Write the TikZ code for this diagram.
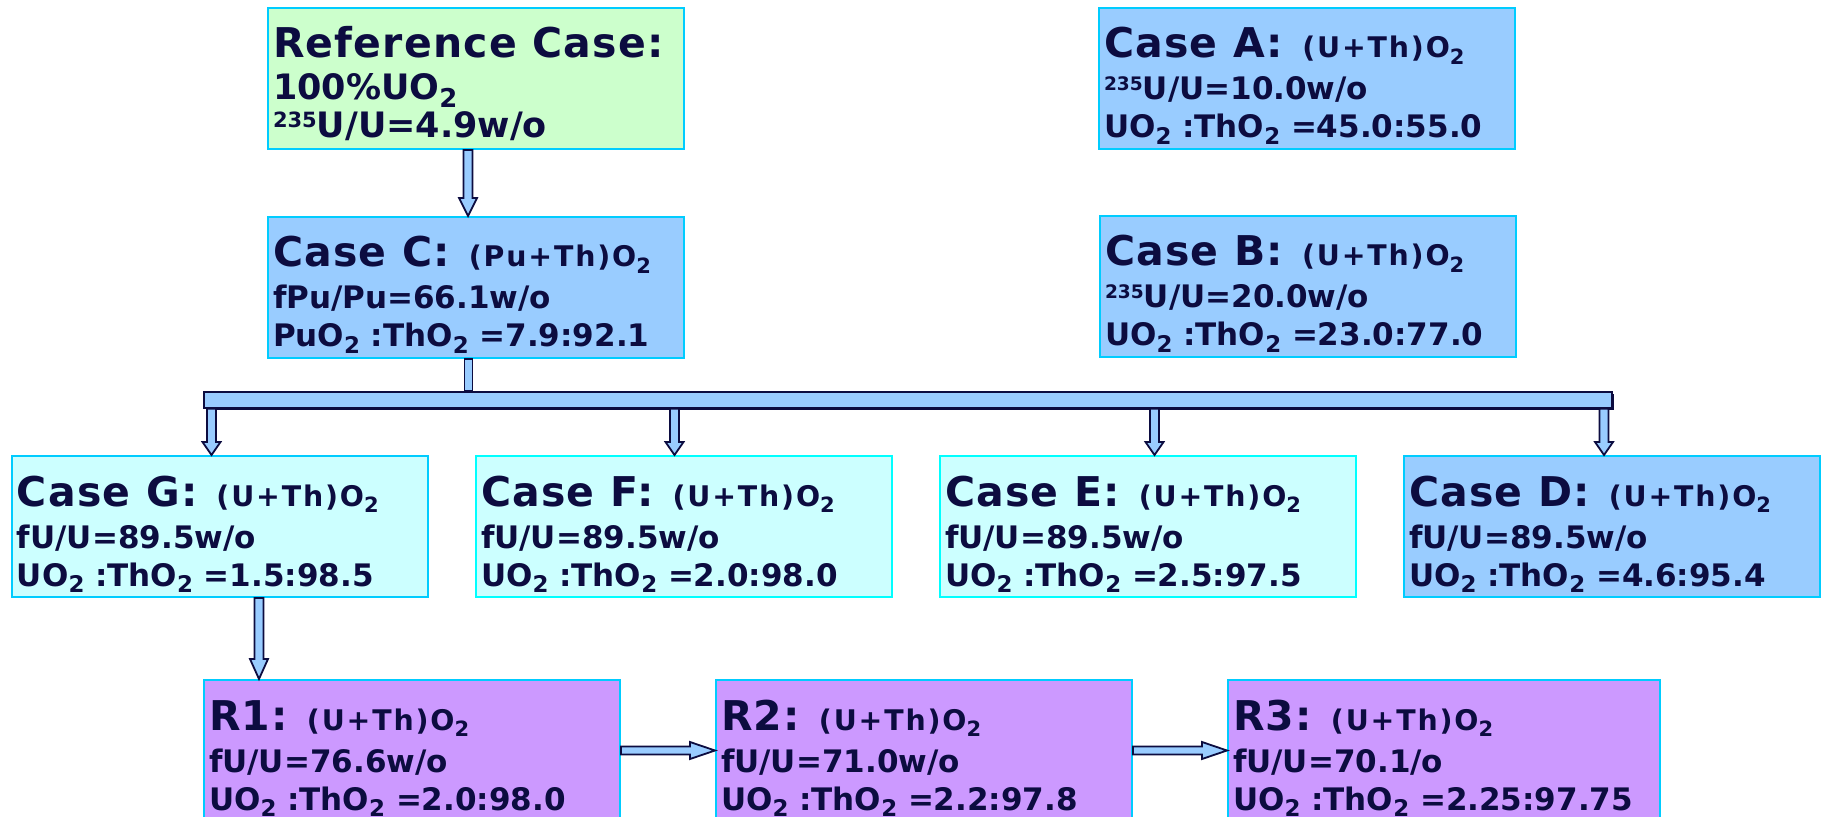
\documentclass[tikz,border=0pt]{standalone}
\usepackage{fontspec}
\setmainfont{DejaVu Sans}
\usepackage{graphicx}
\usetikzlibrary{calc,shadows}

\definecolor{edgecyan}{HTML}{00CCFF}
\definecolor{edgeaqua}{HTML}{00FFFF}
\definecolor{refgreen}{HTML}{CCFFCC}
\definecolor{caseblue}{HTML}{99CCFF}
\definecolor{caseaqua}{HTML}{CCFFFF}
\definecolor{runlilac}{HTML}{CC99FF}
\definecolor{inknavy}{HTML}{0C0C40}

\newcommand{\ttlfont}{\fontsize{20.5}{22}\selectfont\bfseries\addfontfeature{LetterSpace=3}}
\newcommand{\frmfont}{\fontsize{14.2}{15}\selectfont\bfseries\addfontfeature{LetterSpace=6.5}}
\newcommand{\txtfont}{\fontsize{15.5}{17}\selectfont\bfseries}
\newcommand{\reftxtfont}{\fontsize{17.5}{19}\selectfont\bfseries}
\newcommand{\sbs}[1]{\raisebox{-0.22em}{\scalebox{0.74}{#1}}}
\newcommand{\sps}[1]{\raisebox{0.3em}{\scalebox{0.6}{#1}}}
% three text lines on fixed baselines
\newcommand{\casetxt}[5][203pt]{\hbox to #1{\vbox{\offinterlineskip
  \hbox{\rule{0pt}{25pt}\smash{\ttlfont #2\hspace{9.5pt}\frmfont #3}}
  \hbox{\rule{0pt}{21pt}\smash{\txtfont #4}}
  \hbox{\rule[-5.5pt]{0pt}{24.5pt}\smash{\txtfont #5}}}\hfil}}

\begin{document}
\begin{tikzpicture}[x=0.5pt,y=-0.5pt,
    casebox/.style={rectangle,draw=edgecyan,line width=1pt,inner xsep=2.5pt,inner ysep=0pt,anchor=north west,text=inknavy},
    arrowbody/.style={fill=caseblue,draw=inknavy,line width=0.9pt,line join=miter},
    blockdown/.style={arrowbody,to path={let \p1=(\tikztostart),\p2=(\tikztotarget) in
      (\x1-2.25pt,\y1) -- (\x1-2.25pt,\y2+#1) -- (\x1-4.5pt,\y2+#1) -- (\x1,\y2)
      -- (\x1+4.5pt,\y2+#1) -- (\x1+2.25pt,\y2+#1) -- (\x1+2.25pt,\y1) -- cycle}},
    blockdown/.default=9pt,
    blockright/.style={arrowbody,to path={let \p1=(\tikztostart),\p2=(\tikztotarget) in
      (\x1,\y1+2pt) -- (\x2-12.5pt,\y1+2pt) -- (\x2-12.5pt,\y1+4.25pt) -- (\x2,\y1)
      -- (\x2-12.5pt,\y1-4.25pt) -- (\x2-12.5pt,\y1-2pt) -- (\x1,\y1-2pt) -- cycle}}]
  \useasboundingbox[fill=white] (0,0) rectangle (1823,817);

  \node[casebox,fill=refgreen] (refc) at (267,7) {\casetxt{Reference Case:}{}{\reftxtfont 100\%UO\sbs{2}}{\reftxtfont \sps{235}U/U=4.9w/o}};
  \node[casebox,fill=caseblue] (casea) at (1098,7) {\casetxt{Case A:}{(U+Th)O\sbs{2}}{\sps{235}U/U=10.0w/o}{UO\sbs{2} :ThO\sbs{2} =45.0:55.0}};
  \node[casebox,fill=caseblue] (casec) at (267,216) {\casetxt{Case C:}{(Pu+Th)O\sbs{2}}{fPu/Pu=66.1w/o}{PuO\sbs{2} :ThO\sbs{2} =7.9:92.1}};
  \node[casebox,fill=caseblue] (caseb) at (1099,215) {\casetxt{Case B:}{(U+Th)O\sbs{2}}{\sps{235}U/U=20.0w/o}{UO\sbs{2} :ThO\sbs{2} =23.0:77.0}};

  \node[casebox,fill=caseaqua] (caseg) at (11,455) {\casetxt{Case G:}{(U+Th)O\sbs{2}}{fU/U=89.5w/o}{UO\sbs{2} :ThO\sbs{2} =1.5:98.5}};
  \node[casebox,fill=caseaqua,draw=edgeaqua] (casef) at (475,455) {\casetxt{Case F:}{(U+Th)O\sbs{2}}{fU/U=89.5w/o}{UO\sbs{2} :ThO\sbs{2} =2.0:98.0}};
  \node[casebox,fill=caseaqua,draw=edgeaqua] (casee) at (939,455) {\casetxt{Case E:}{(U+Th)O\sbs{2}}{fU/U=89.5w/o}{UO\sbs{2} :ThO\sbs{2} =2.5:97.5}};
  \node[casebox,fill=caseblue] (cased) at (1403,455) {\casetxt{Case D:}{(U+Th)O\sbs{2}}{fU/U=89.5w/o}{UO\sbs{2} :ThO\sbs{2} =4.6:95.4}};

  \node[casebox,fill=runlilac] (r1) at (203,679) {\casetxt{R1:}{(U+Th)O\sbs{2}}{fU/U=76.6w/o}{UO\sbs{2} :ThO\sbs{2} =2.0:98.0}};
  \node[casebox,fill=runlilac] (r2) at (715,679) {\casetxt{R2:}{(U+Th)O\sbs{2}}{fU/U=71.0w/o}{UO\sbs{2} :ThO\sbs{2} =2.2:97.8}};
  \node[casebox,fill=runlilac] (r3) at (1227,679) {\casetxt[211pt]{R3:}{(U+Th)O\sbs{2}}{fU/U=70.1/o}{UO\sbs{2} :ThO\sbs{2} =2.25:97.75}};

  % splitter bar under case C
  \node[arrowbody,rectangle,inner sep=0pt,minimum width=704pt,minimum height=8pt,anchor=north west,
    drop shadow={shadow xshift=1pt,shadow yshift=-1.2pt,fill=inknavy,opacity=1}] (bar) at (203,391) {};
  \draw[arrowbody] ([xshift=-5.75pt]casec.south) rectangle ([xshift=-1.75pt]casec.south |- bar.north);

  \draw[blockdown] ([xshift=-4pt]refc.south) to ([xshift=-4pt]casec.north);
  \draw[blockdown=6.5pt] ([xshift=-4.25pt]bar.south -| caseg.north) to ([xshift=-4.25pt]caseg.north);
  \draw[blockdown=6.5pt] ([xshift=-4.75pt]bar.south -| casef.north) to ([xshift=-4.75pt]casef.north);
  \draw[blockdown=6.5pt] ([xshift=3.25pt]bar.south -| casee.north) to ([xshift=3.25pt]casee.north);
  \draw[blockdown=6.5pt] ([xshift=-4pt]bar.south -| cased.north) to ([xshift=-4pt]cased.north);
  \draw[blockdown=10pt] ([xshift=124pt]caseg.south west) to ([xshift=124pt]caseg.south west |- r1.north);
  \draw[blockright] (r1.east) to (r2.west);
  \draw[blockright] (r2.east) to (r3.west);
\end{tikzpicture}
\end{document}
